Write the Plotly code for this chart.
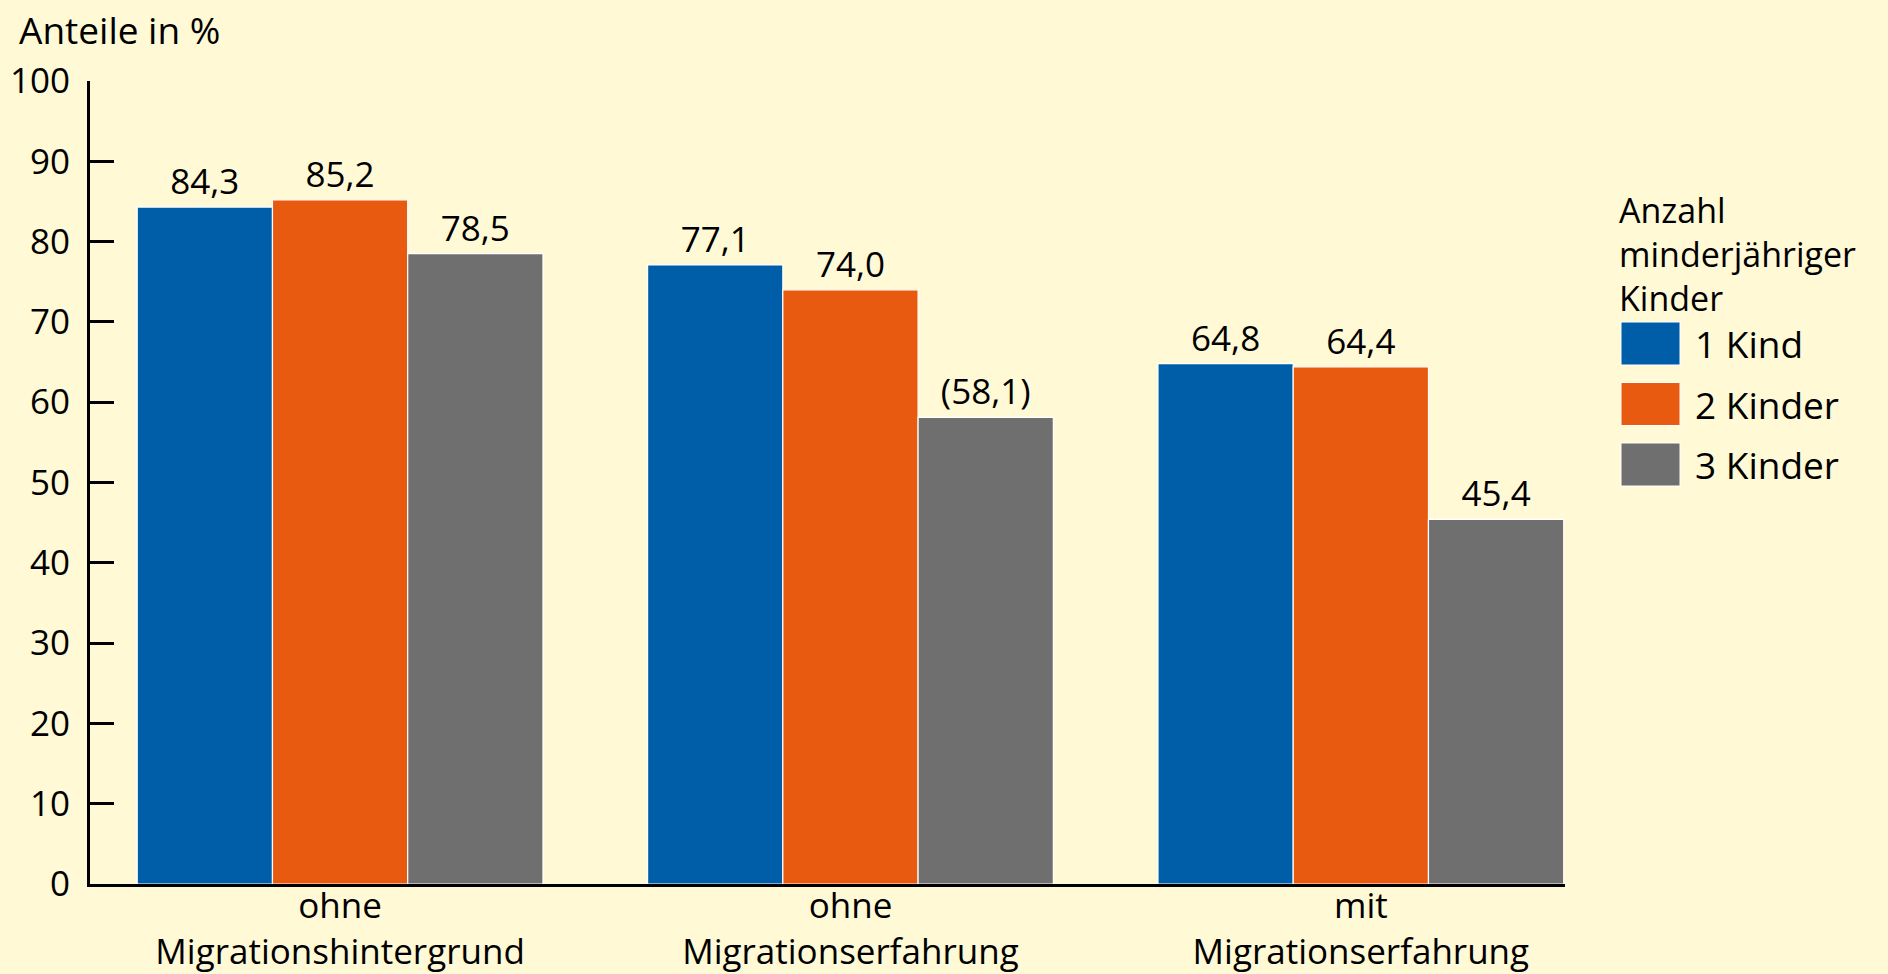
import plotly.graph_objects as go

# Anteile in % nach Anzahl minderjähriger Kinder
gruppen = ["ohne<br>Migrationshintergrund", "ohne<br>Migrationserfahrung", "mit<br>Migrationserfahrung"]
serien = ["1 Kind", "2 Kinder", "3 Kinder"]
kind1 = [84.3, 77.1, 64.8]
kind2 = [85.2, 74.0, 64.4]
kind3 = [78.5, 58.1, 45.4]
# Werte mit eingeschränkter Aussagekraft (in Klammern)
klammer3 = [False, True, False]
klammer_leer = [False, False, False]

farben = ["#005DA8", "#E85A0F", "#706F6F"]
bg = "#FFF9D6"
font = "Open Sans"
fs = 35     # Ziffern
fs_txt = 37  # Beschriftungen mit Kleinbuchstaben

W, H = 1888, 974
ml, mr, mt, mb = 90, 323, 81, 90


def px2paper(x, y):
    return (x - ml) / (W - ml - mr), (H - mb - y) / (H - mt - mb)


def fmt(v, k):
    s = f"{v:.1f}".replace(".", ",")
    return f"({s})" if k else s


fig = go.Figure()
for name, werte, kl, farbe in zip(serien, [kind1, kind2, kind3],
                                  [klammer_leer, klammer_leer, klammer3], farben):
    fig.add_trace(go.Bar(
        x=gruppen, y=werte, name=name,
        marker=dict(color=farbe, line=dict(color="#FFFFFF", width=1.2)),
        text=[fmt(v, k) for v, k in zip(werte, kl)],
        textposition="outside", cliponaxis=False,
        textfont=dict(size=fs, color="black", family=font),
        showlegend=False,
    ))

# Legende von Hand (Plotly-Symbole sind zu klein)
for i, (name, farbe) in enumerate(zip(serien, farben)):
    cy = 343.5 + 60.5 * i
    x0, y0 = px2paper(1621, cy + 21.5)
    x1, y1 = px2paper(1680, cy - 21.5)
    fig.add_shape(type="rect", xref="paper", yref="paper", x0=x0, x1=x1, y0=y0, y1=y1,
                  fillcolor=farbe, line=dict(color="#FFFFFF", width=1))
    tx, ty = px2paper(1693, cy)
    fig.add_annotation(text=name, xref="paper", yref="paper", x=tx, y=ty,
                       xanchor="left", yanchor="middle", showarrow=False,
                       font=dict(size=fs_txt, color="black", family=font))

tx, ty = px2paper(1617, 254)
fig.add_annotation(text="Anzahl<br>minderjähriger<br>Kinder", xref="paper", yref="paper",
                   x=tx, y=ty, xanchor="left", yanchor="middle", align="left",
                   showarrow=False, font=dict(size=34, color="black", family=font))

tx, ty = px2paper(17, 30)
fig.add_annotation(text="Anteile in %", xref="paper", yref="paper", x=tx, y=ty,
                   xanchor="left", yanchor="middle", showarrow=False,
                   font=dict(size=fs_txt, color="black", family=font))

fig.update_layout(
    width=W, height=H,
    margin=dict(l=ml, r=mr, t=mt, b=mb),
    paper_bgcolor=bg, plot_bgcolor=bg,
    barmode="group", bargap=0.205, bargroupgap=0,
    font=dict(family=font, size=fs, color="black"),
    showlegend=False,
)
fig.update_xaxes(range=[-0.49, 2.4], showline=True, linewidth=3, linecolor="black",
                 ticks="", showgrid=False, zeroline=False, ticklabelstandoff=-11,
                 automargin=False, tickfont=dict(size=35, color="black"))
fig.update_yaxes(range=[0, 100], dtick=10, showline=True, linewidth=3, linecolor="black",
                 ticks="inside", ticklen=24, tickwidth=2.5, tickcolor="black",
                 showgrid=False, zeroline=False, ticklabelstandoff=10, automargin=False,
                 tickfont=dict(size=fs, color="black"))

fig.write_html("out.html", config={"displayModeBar": False},
               post_script="document.body.style.margin='0';document.body.style.overflow='hidden';")
